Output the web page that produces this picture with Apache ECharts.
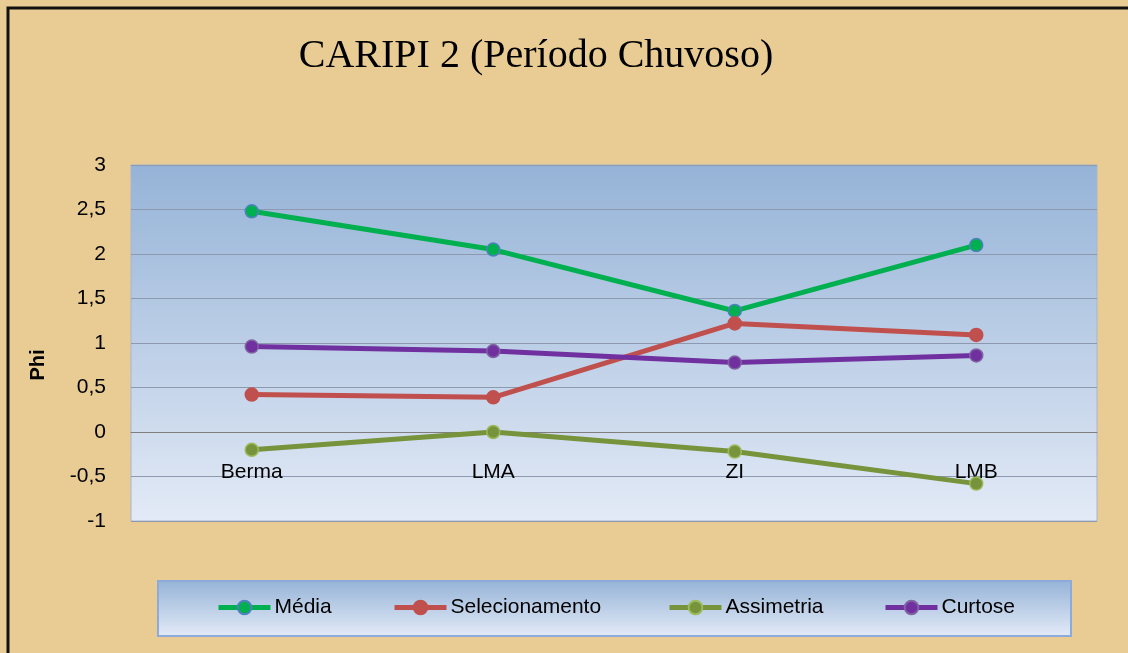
<!DOCTYPE html>
<html>
<head>
<meta charset="utf-8">
<title>CARIPI 2 (Período Chuvoso)</title>
<script src="https://cdn.jsdelivr.net/npm/echarts@6/dist/echarts.min.js"></script>
<style>
  html, body { margin: 0; padding: 0; background: #E9CC93; }
  #chart { width: 1128px; height: 653px; }
</style>
</head>
<body>
<div id="chart"></div>
<script>
// data
const categories = ['Berma', 'LMA', 'ZI', 'LMB']
const media = [2.48, 2.05, 1.36, 2.1]
const selecionamento = [0.42, 0.39, 1.22, 1.09]
const assimetria = [-0.2, 0, -0.22, -0.58]
const curtose = [0.96, 0.91, 0.78, 0.86]
const yTicks = { min: -1, max: 3, interval: 0.5 }

const seriesDefs = [
  { name: 'Média', data: media, line: '#00B050', fill: '#00B050', border: '#4F81BD' },
  { name: 'Selecionamento', data: selecionamento, line: '#C0504D', fill: '#C0504D', border: '#C0504D' },
  { name: 'Assimetria', data: assimetria, line: '#77933C', fill: '#77933C', border: '#9BBB59' },
  { name: 'Curtose', data: curtose, line: '#7030A0', fill: '#7030A0', border: '#8064A2' }
]
// legend entries are spread like the original box, one legend per entry
const legendLeft = [216, 392, 667, 883]

const chart = echarts.init(document.getElementById('chart'))
const labelFont = '"Liberation Sans", "DejaVu Sans", sans-serif'

// plot box, category axis sits on the zero line
const plot = { left: 131, top: 165, width: 966, height: 356 }
const zeroOffset = -plot.height * (0 - yTicks.min) / (yTicks.max - yTicks.min)

chart.setOption({
  backgroundColor: '#E9CC93',
  animation: false,
  title: {
    text: 'CARIPI 2 (Período Chuvoso)',
    left: 531,
    textAlign: 'center',
    top: 31,
    textStyle: { fontFamily: '"Liberation Serif", serif', fontSize: 40, fontWeight: 'normal', color: '#000' }
  },
  graphic: [
    {
      type: 'rect', z: -10, silent: true,
      shape: { x: 8, y: 8, width: 1140, height: 670 },
      style: { fill: 'none', stroke: '#111', lineWidth: 3 }
    },
    {
      type: 'rect', z: -5, silent: true,
      shape: { x: 158, y: 581, width: 913, height: 55 },
      style: {
        fill: new echarts.graphic.LinearGradient(0, 0, 0, 1, [
          { offset: 0, color: '#95B3D7' },
          { offset: 1, color: '#E4EBF7' }
        ]),
        stroke: '#8EAADB', lineWidth: 2
      }
    },
    {
      type: 'text', silent: true,
      x: 38, y: 365, rotation: Math.PI / 2,
      style: {
        text: 'Phi', fill: '#000', fontFamily: labelFont, fontSize: 20, fontWeight: 'bold',
        align: 'center', verticalAlign: 'middle'
      }
    }
  ],
  legend: seriesDefs.map((s, i) => ({
    left: legendLeft[i],
    top: 597,
    padding: 0,
    itemWidth: 52,
    itemHeight: 17,
    lineStyle: { width: 5 },
    textStyle: { fontFamily: labelFont, fontSize: 21, color: '#000', padding: [0, 0, 0, -1] },
    data: [s.name]
  })),
  grid: {
    left: plot.left, top: plot.top, width: plot.width, height: plot.height,
    show: true,
    borderColor: '#A7B6CF',
    borderWidth: 1,
    backgroundColor: new echarts.graphic.LinearGradient(0, 0, 0, 1, [
      { offset: 0, color: '#95B3D7' },
      { offset: 1, color: '#E3EAF6' }
    ])
  },
  xAxis: {
    type: 'category',
    data: categories,
    boundaryGap: true,
    offset: zeroOffset,
    axisLine: { onZero: false, lineStyle: { color: '#7F7F7F', width: 1 } },
    axisTick: { show: false },
    axisLabel: { margin: 30, color: '#000', fontFamily: labelFont, fontSize: 21 },
    z: 1
  },
  yAxis: {
    type: 'value',
    min: yTicks.min,
    max: yTicks.max,
    interval: yTicks.interval,
    axisLine: { show: false },
    axisTick: { show: false },
    axisLabel: {
      margin: 25, color: '#000', fontFamily: labelFont, fontSize: 21,
      formatter: (v) => String(v).replace('.', ',')
    },
    splitLine: { lineStyle: { color: '#8C99AE', width: 1 } }
  },
  series: seriesDefs.map((s) => ({
    name: s.name,
    type: 'line',
    data: s.data,
    symbol: 'circle',
    symbolSize: 13,
    z: 3,
    lineStyle: { color: s.line, width: 5 },
    itemStyle: { color: s.fill, borderColor: s.border, borderWidth: 1.5 }
  }))
})
</script>
</body>
</html>
